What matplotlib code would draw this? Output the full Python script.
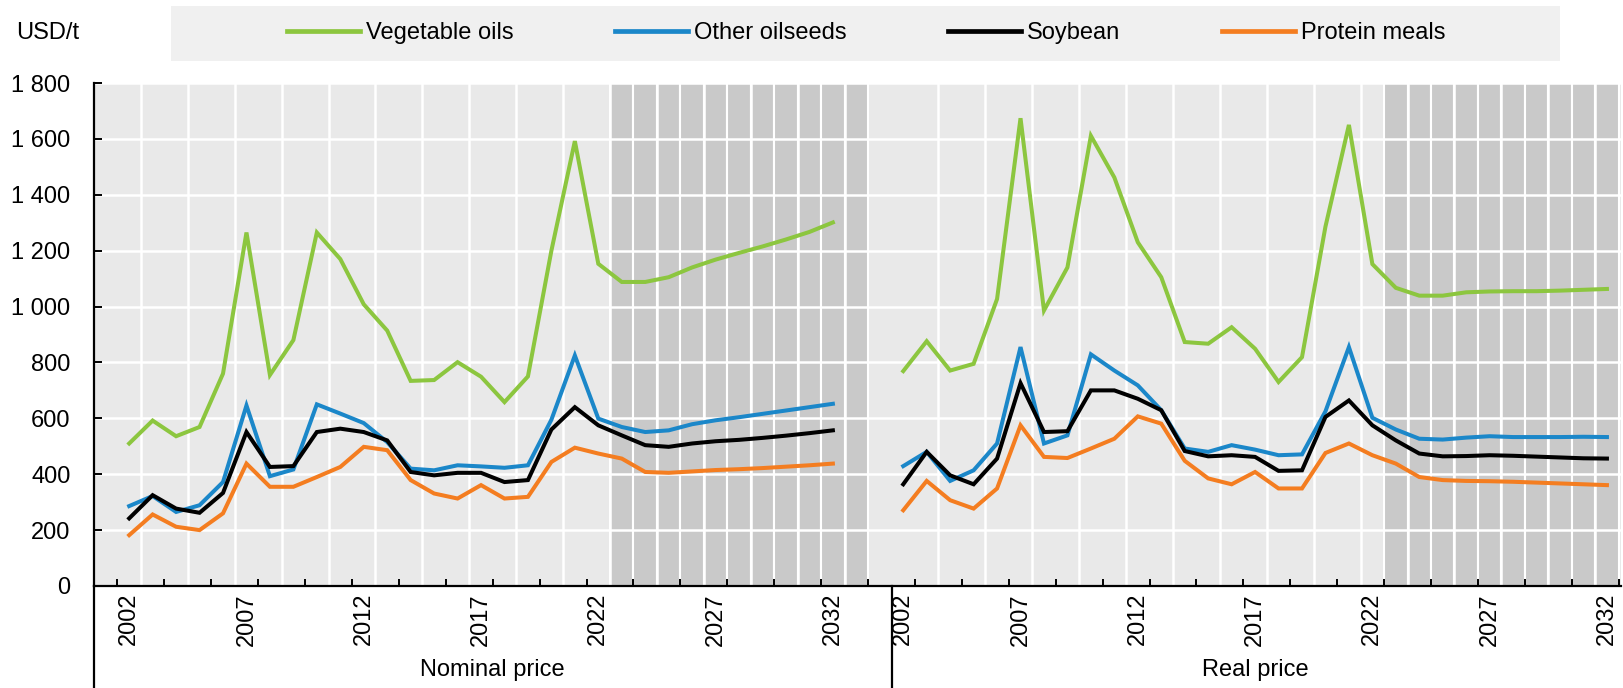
import numpy as np
import matplotlib.pyplot as plt
from matplotlib import font_manager
from matplotlib.patches import Rectangle
from matplotlib.lines import Line2D
import matplotlib.transforms as mtrans

# data, USD/t, years 2002-2032
years = list(range(2002, 2033))
groups = ['Nominal price', 'Real price']
series = ['Vegetable oils', 'Other oilseeds', 'Soybean', 'Protein meals']

veg_nominal = [510, 592, 536, 569, 760, 1265, 755, 880, 1265, 1170, 1008, 914, 734, 737,
               801, 749, 658, 750, 1200, 1592, 1153, 1088, 1088, 1105, 1140, 1168,
               1192, 1215, 1240, 1267, 1301]
oil_nominal = [286, 322, 265, 289, 372, 646, 393, 417, 650, 617, 583, 515, 420, 414,
               432, 428, 423, 432, 595, 825, 599, 569, 551, 557, 579, 593, 604, 616,
               628, 640, 652]
soy_nominal = [242, 325, 277, 262, 333, 551, 426, 429, 551, 563, 551, 521, 408, 396,
               405, 405, 372, 379, 560, 640, 575, 539, 504, 498, 510, 518, 523, 530,
               538, 547, 557]
meal_nominal = [182, 256, 212, 200, 260, 438, 355, 355, 390, 426, 498, 486, 379, 331,
                313, 361, 313, 319, 444, 495, 474, 456, 408, 405, 410, 415, 418, 422,
                427, 432, 438]

veg_real = [769, 876, 771, 795, 1027, 1674, 986, 1140, 1611, 1462, 1230, 1105, 873, 867,
            926, 849, 730, 819, 1286, 1650, 1152, 1067, 1039, 1039, 1051, 1054, 1055,
            1055, 1057, 1060, 1063]
oil_real = [429, 480, 376, 414, 510, 855, 510, 539, 829, 771, 718, 629, 492, 480, 504,
            488, 468, 471, 625, 855, 602, 560, 527, 524, 531, 536, 533, 533, 533, 534,
            533]
soy_real = [364, 480, 396, 364, 456, 726, 551, 554, 700, 700, 670, 629, 483, 464, 468,
            462, 412, 414, 605, 664, 575, 521, 474, 464, 465, 468, 466, 463, 460, 457,
            456]
meal_real = [271, 376, 307, 277, 349, 575, 462, 458, 492, 527, 607, 581, 448, 385, 364,
             408, 349, 349, 476, 510, 468, 438, 390, 379, 376, 375, 373, 370, 367, 364,
             361]

nominal = [veg_nominal, oil_nominal, soy_nominal, meal_nominal]
real = [veg_real, oil_real, soy_real, meal_real]
colors = ['#8cc63f', '#1b87c9', '#000000', '#f47d20']

# category layout: nominal block 2001-2034, real block 2002-2032
left_cats = list(range(2001, 2035))
right_cats = list(range(2002, 2033))
proj_start, proj_end = 2023, 2033

names = {f.name for f in font_manager.fontManager.ttflist}
if 'Liberation Sans Narrow' in names:
    fam, fs = 'Liberation Sans Narrow', 20
else:
    fam, fs = 'Liberation Sans', 17
plt.rcParams['font.family'] = [fam, 'DejaVu Sans']
plt.rcParams['font.size'] = fs

W, H = 1623, 688
fig = plt.figure(figsize=(W / 100, H / 100), dpi=100)
x0, x1, y0, y1 = 94, 1621, 586, 83
ax = fig.add_axes([x0 / W, 1 - y0 / H, (x1 - x0) / W, (y0 - y1) / H])
ax.set_facecolor('#e9e9e9')

pos_left = {yr: i for i, yr in enumerate(left_cats)}
pos_right = {yr: len(left_cats) + i for i, yr in enumerate(right_cats)}
ncat = len(left_cats) + len(right_cats)

# projection shading
shade = [pos_left[y] for y in left_cats if proj_start <= y <= proj_end] + \
        [pos_right[y] for y in right_cats if proj_start <= y <= proj_end]
ax.bar(shade, [1800] * len(shade), width=1, color='#c9c9c9', edgecolor='white',
       linewidth=1.5, zorder=0.5)

# white grid
for v in range(200, 1801, 200):
    ax.axhline(v, color='white', lw=1.8, zorder=0.8)
sep = len(left_cats) - 0.5
for b in np.arange(1.5, ncat, 2):
    if abs(b - sep) > 0.01:
        ax.axvline(b, color='white', lw=1.8, zorder=0.8)

for vals_n, vals_r, c in zip(nominal, real, colors):
    ax.plot([pos_left[y] for y in years], vals_n, color=c, lw=2.9, zorder=3,
            solid_joinstyle='miter')
    ax.plot([pos_right[y] for y in years], vals_r, color=c, lw=2.9, zorder=3,
            solid_joinstyle='miter')

ax.set_xlim(-0.5, ncat - 0.4)
ax.set_ylim(0, 1800)

ax.set_xticks(np.arange(0.5, ncat, 2))
ax.set_xticklabels([])
ax.tick_params(axis='x', which='major', direction='in', length=5, width=1.4)
lab_years = list(range(2002, 2033, 5))
ax.set_xticks([pos_left[y] for y in lab_years] + [pos_right[y] for y in lab_years],
              minor=True)
ax.set_xticklabels([str(y) for y in lab_years] * 2, minor=True, rotation=90)
ax.tick_params(axis='x', which='minor', length=0, pad=5)

yt = list(range(0, 1801, 200))
ax.set_yticks(yt)
ax.set_yticklabels([f'{v:,}'.replace(',', ' ') for v in yt])
ax.tick_params(axis='y', direction='in', length=6, width=1.4, pad=17)

for s in ['top', 'right']:
    ax.spines[s].set_visible(False)
for s in ['left', 'bottom']:
    ax.spines[s].set_linewidth(1.6)
    ax.spines[s].set_color('black')

trans = mtrans.blended_transform_factory(ax.transData, ax.transAxes)
ybot = -(H - y0) / (y0 - y1)
for xs in [-0.5, sep]:
    ax.plot([xs, xs], [0, ybot], color='black', lw=1.6, transform=trans, clip_on=False)
ax.text((-0.5 + sep) / 2, -0.167, groups[0], transform=trans, ha='center', va='center')
ax.text((sep + ncat - 0.5) / 2, -0.167, groups[1], transform=trans, ha='center',
        va='center')

# legend strip
fig.patches.append(Rectangle((171 / W, 1 - 61 / H), (1560 - 171) / W, 55 / H,
                             transform=fig.transFigure, facecolor='#f0f0f0',
                             edgecolor='none', zorder=0))
handles = [Line2D([], [], color=c, lw=3.4) for c in colors]
fig.legend(handles, series, ncol=4, loc='center', bbox_to_anchor=(866 / W, 1 - 33 / H),
           frameon=False, handlelength=3.1, handletextpad=0.25, columnspacing=4.3,
           fontsize=fs)
fig.text(16 / W, 1 - 33 / H, 'USD/t', ha='left', va='center')

fig.savefig('out.png', dpi=100)
